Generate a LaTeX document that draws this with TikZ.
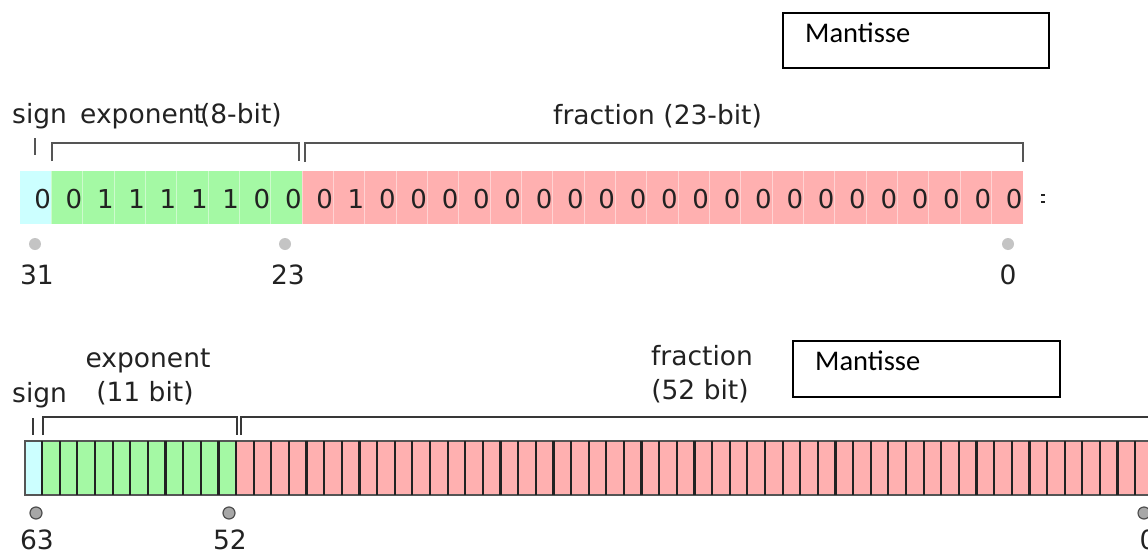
\documentclass[tikz,border=0pt]{standalone}
\usepackage{fontspec}
\setmainfont{DejaVu Sans}
\newfontfamily\calfont{Carlito}
\definecolor{signc}{HTML}{CCFFFF}
\definecolor{expc}{HTML}{A4F9A4}
\definecolor{fracc}{HTML}{FFB0B0}
\definecolor{txtc}{HTML}{222222}
\definecolor{brc}{HTML}{555555}
\definecolor{dotc}{HTML}{C4C4C4}
\tikzset{
  lbl/.style={inner sep=0pt, text=txtc, font=\fontsize{26.5}{30}\selectfont, anchor=base},
  lblw/.style={lbl, anchor=base west},
  digit/.style={inner sep=0pt, text=txtc, font=\fontsize{26}{30}\selectfont, anchor=base},
  brack/.style={draw=brc, line width=2pt},
  brackb/.style={draw=txtc!90, line width=1.8pt},
  tdot/.style={circle, fill=dotc, minimum size=12pt, inner sep=0pt},
  bdot/.style={circle, fill=dotc!85!black, draw=txtc!80, line width=1.2pt, minimum size=12pt, inner sep=0pt},
  mbox/.style={draw=black, line width=1.2pt},
  mtext/.style={inner sep=0pt, font=\calfont\fontsize{28.5}{32}\selectfont, anchor=base west},
}
\begin{document}
\begin{tikzpicture}[x=1pt,y=-1pt]
\path[use as bounding box] (0,0) rectangle (1148,554);
\clip (0,0) rectangle (1148,554);
% ---------- top (single precision) ----------
\def\tw{31.34}
\foreach \i in {0,...,31}{
  \pgfmathsetmacro{\xa}{20+\i*\tw}
  \pgfmathsetmacro{\xb}{20+(\i+1)*\tw}
  \ifnum\i=0 \def\cc{signc}\else\ifnum\i<9 \def\cc{expc}\else\def\cc{fracc}\fi\fi
  \fill[\cc] (\xa,171) rectangle (\xb,224);
  \ifnum\i>0 \draw[white, opacity=0.45, line width=0.8pt] (\xa,171) -- (\xa,224);\fi
}
\foreach \b [count=\k from 0] in {0,0,1,1,1,1,1,0,0,0,1,0,0,0,0,0,0,0,0,0,0,0,0,0,0,0,0,0,0,0,0,0}{
  \node[digit] (d\k) at ({20+\k*\tw+22.6},208) {\b};
}
% small "=" remnant
\draw[txtc, line width=1.6pt] (1041,195) -- (1045,195) (1041,202) -- (1045,202);
% labels
\node[lblw] (ts) at (12,123) {sign};
\node[lblw] (te) at (80,123) {exponen\kern-1pt t\kern-4pt(8-bit)};
\node[lblw] (tf) at (553,124) {fraction (23-bit)};
% brackets
\coordinate (s1) at (35,138); \coordinate (s2) at (35,155);
\draw[brack] (s1) -- (s2);
\coordinate (e1) at (52,161); \coordinate (e2) at (52,143);
\coordinate (e3) at (299,143); \coordinate (e4) at (299,161);
\draw[brack] (e1) -- (e2) -- (e3) -- (e4);
\coordinate (f1) at (305,162); \coordinate (f2) at (305,143);
\coordinate (f3) at (1023,143); \coordinate (f4) at (1023,162);
\draw[brack] (f1) -- (f2) -- (f3) -- (f4);
% dots and indices
\node[tdot] (p31) at (35,244) {};
\node[tdot] (p23) at (285,244) {};
\node[tdot] (p0) at (1008,244) {};
\node[lbl] (n31) at (37,284) {31};
\node[lbl] (n23) at (288,284) {23};
\node[lbl] (n0) at (1008,284) {0};
% Mantisse box top
\draw[mbox] (783,13) rectangle (1049,68);
\node[mtext] (m1) at (805,42) {Mantisse};
% ---------- bottom (double precision) ----------
\def\bw{17.63}
\foreach \i in {0,...,63}{
  \pgfmathsetmacro{\xa}{24.5+\i*\bw}
  \pgfmathsetmacro{\xb}{24.5+(\i+1)*\bw}
  \ifnum\i=0 \def\cc{signc}\else\ifnum\i<12 \def\cc{expc}\else\def\cc{fracc}\fi\fi
  \fill[\cc] (\xa,441) rectangle (\xb,495);
}
\draw[brc, line width=2pt] (1170,441) -- (25,441) -- (25,495) -- (1170,495);
\foreach \i in {1,...,63}{
  \pgfmathsetmacro{\xa}{24.5+\i*\bw}
  \draw[txtc, line width=2.2pt] (\xa,441) -- (\xa,495);
}
% labels
\node[lblw] (bs) at (12,402) {sign};
\node[lbl] (be) at (148,367) {exponent};
\node[lbl] (be2) at (145,401) {(11 bit)};
\node[lbl] (bf) at (702,365) {fraction};
\node[lbl] (bf2) at (700,399) {(52 bit)};
% brackets
\coordinate (bs1) at (33,418); \coordinate (bs2) at (33,435);
\draw[brackb] (bs1) -- (bs2);
\coordinate (be1) at (43,435); \coordinate (be2c) at (43,417);
\coordinate (be3) at (237,417); \coordinate (be4) at (237,435);
\draw[brackb] (be1) -- (be2c) -- (be3) -- (be4);
\coordinate (bf1) at (241,435); \coordinate (bf2c) at (241,417);
\coordinate (bf3) at (1160,417);
\draw[brackb] (bf1) -- (bf2c) -- (bf3);
% dots and indices
\node[bdot] (q63) at (36,513) {};
\node[bdot] (q52) at (229,513) {};
\node[bdot] (q0) at (1144,513) {};
\node[lbl] (m63) at (37,549) {63};
\node[lbl] (m52) at (230,549) {52};
\node[lbl] (m0) at (1148,549) {0};
% Mantisse box bottom
\draw[mbox] (793,341) rectangle (1060,397);
\node[mtext] (m2) at (815,370) {Mantisse};
\end{tikzpicture}
\end{document}
